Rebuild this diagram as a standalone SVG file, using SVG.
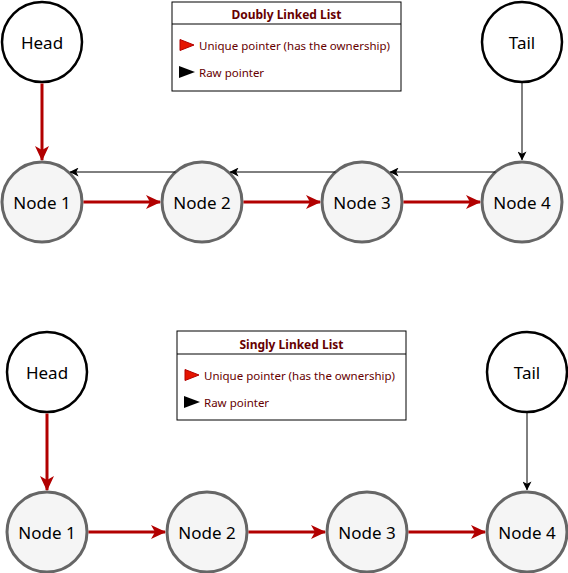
<svg xmlns="http://www.w3.org/2000/svg" width="568" height="573" viewBox="0 0 568 573">
  <defs>
    <marker id="redHead" viewBox="0 0 15 14" refX="14" refY="7" markerWidth="15" markerHeight="14" markerUnits="userSpaceOnUse" orient="auto">
      <path d="M0,0 L15,7 L0,14 L4,7 Z" fill="#B20000"/>
    </marker>
    <marker id="blackHead" viewBox="0 0 10 10" refX="9.5" refY="5" markerWidth="9" markerHeight="9" markerUnits="userSpaceOnUse" orient="auto">
      <path d="M0,0 L10,5 L0,10 L2.5,5 Z" fill="#000000"/>
    </marker>
  </defs>
  <style>
    text { font-family: "Comic Sans MS", "Noto Sans", "Liberation Sans", sans-serif; }
    .end { fill: #ffffff; stroke: #000000; stroke-width: 2.5; }
    .node { fill: #f5f5f5; stroke: #666666; stroke-width: 3; }
    .label { font-size: 17px; fill: #000000; text-anchor: middle; dominant-baseline: central; }
    .own { stroke: #B20000; stroke-width: 3; fill: none; marker-end: url(#redHead); }
    .raw { stroke: #000000; stroke-width: 1; fill: none; marker-end: url(#blackHead); }
    .legend { fill: #ffffff; stroke: #000000; stroke-width: 1; }
    .ltitle { font-size: 12px; font-weight: bold; fill: #660000; text-anchor: middle; dominant-baseline: central; }
    .litem { font-size: 11.5px; fill: #660000; dominant-baseline: central; }
    .tri-red { fill: #e51400; stroke: #B20000; stroke-width: 1; }
    .tri-black { fill: #000000; }
  </style>

  <!-- Doubly linked list -->
  <g id="dll-legend">
    <rect class="legend" x="172" y="2" width="229" height="89"/>
    <line x1="172" y1="24" x2="401" y2="24" stroke="#000" stroke-width="1"/>
    <text class="ltitle" x="286.5" y="14">Doubly Linked List</text>
    <polygon class="tri-red" points="180,39.5 194,45 180,50.5"/>
    <text class="litem" x="199" y="45">Unique pointer (has the ownership)</text>
    <polygon class="tri-black" points="179,66 195,72 179,78"/>
    <text class="litem" x="199" y="72">Raw pointer</text>
  </g>
  <g id="dll-head"><circle class="end" cx="42" cy="42" r="40"/><text class="label" x="42" y="42">Head</text></g>
  <g id="dll-tail"><circle class="end" cx="522" cy="42" r="40"/><text class="label" x="522" y="42">Tail</text></g>
  <g id="dll-node1"><circle class="node" cx="42" cy="202" r="40"/><text class="label" x="42" y="202">Node 1</text></g>
  <g id="dll-node2"><circle class="node" cx="202" cy="202" r="40"/><text class="label" x="202" y="202">Node 2</text></g>
  <g id="dll-node3"><circle class="node" cx="362" cy="202" r="40"/><text class="label" x="362" y="202">Node 3</text></g>
  <g id="dll-node4"><circle class="node" cx="522" cy="202" r="40"/><text class="label" x="522" y="202">Node 4</text></g>
  <g id="dll-edges">
    <line class="own" x1="42" y1="83.5" x2="42" y2="160"/>
    <line class="own" x1="83.5" y1="202" x2="160" y2="202"/>
    <line class="own" x1="243.5" y1="202" x2="320" y2="202"/>
    <line class="own" x1="403.5" y1="202" x2="480" y2="202"/>
    <line class="raw" x1="522" y1="83" x2="522" y2="160"/>
    <line class="raw" x1="495.5" y1="172" x2="390" y2="172"/>
    <line class="raw" x1="335.5" y1="172" x2="230" y2="172"/>
    <line class="raw" x1="175.5" y1="172" x2="70" y2="172"/>
  </g>

  <!-- Singly linked list -->
  <g id="sll-legend">
    <rect class="legend" x="177" y="331" width="229" height="89"/>
    <line x1="177" y1="354" x2="406" y2="354" stroke="#000" stroke-width="1"/>
    <text class="ltitle" x="291.5" y="344">Singly Linked List</text>
    <polygon class="tri-red" points="185,369.5 199,375 185,380.5"/>
    <text class="litem" x="204" y="375">Unique pointer (has the ownership)</text>
    <polygon class="tri-black" points="184,396 200,402 184,408"/>
    <text class="litem" x="204" y="402">Raw pointer</text>
  </g>
  <g id="sll-head"><circle class="end" cx="47" cy="372" r="40"/><text class="label" x="47" y="372">Head</text></g>
  <g id="sll-tail"><circle class="end" cx="527" cy="372" r="40"/><text class="label" x="527" y="372">Tail</text></g>
  <g id="sll-node1"><circle class="node" cx="47" cy="532" r="40"/><text class="label" x="47" y="532">Node 1</text></g>
  <g id="sll-node2"><circle class="node" cx="207" cy="532" r="40"/><text class="label" x="207" y="532">Node 2</text></g>
  <g id="sll-node3"><circle class="node" cx="367" cy="532" r="40"/><text class="label" x="367" y="532">Node 3</text></g>
  <g id="sll-node4"><circle class="node" cx="527" cy="532" r="40"/><text class="label" x="527" y="532">Node 4</text></g>
  <g id="sll-edges">
    <line class="own" x1="47" y1="413.5" x2="47" y2="490"/>
    <line class="own" x1="88.5" y1="532" x2="165" y2="532"/>
    <line class="own" x1="248.5" y1="532" x2="325" y2="532"/>
    <line class="own" x1="408.5" y1="532" x2="485" y2="532"/>
    <line class="raw" x1="527" y1="413" x2="527" y2="490"/>
  </g>
</svg>
